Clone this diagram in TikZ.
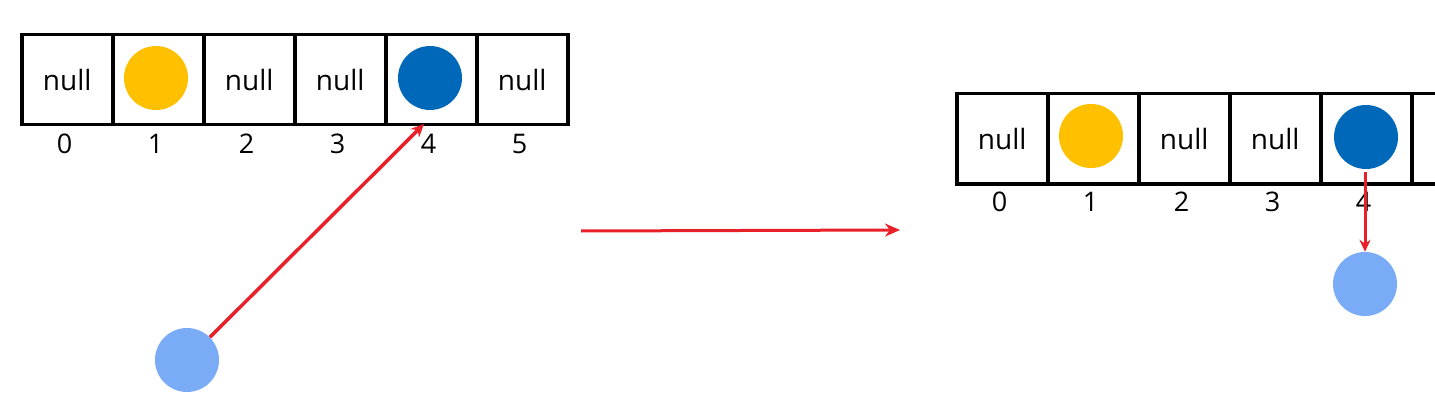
\documentclass[tikz,border=0pt]{standalone}
\usepackage{fontspec}
\setmainfont{Open Sans}
\usetikzlibrary{arrows.meta}
\definecolor{gold}{HTML}{FFC000}
\definecolor{dblue}{HTML}{0068B8}
\definecolor{lblue}{HTML}{7AABF6}
\definecolor{arrred}{HTML}{E8202A}
\tikzset{
  cell/.style={draw=black, line width=3.5pt, minimum width=91pt, minimum height=90pt, inner sep=0pt, font=\fontsize{28}{30}\selectfont, anchor=north west},
  idx/.style={font=\fontsize{27}{30}\selectfont, inner sep=0pt},
  ball/.style={circle, minimum size=64pt, inner sep=0pt},
  redarrow/.style={draw=arrred, line width=3.5pt, -{Stealth[length=13pt,width=12pt]}},
}
\begin{document}
\begin{tikzpicture}[x=1pt,y=-1pt]
\useasboundingbox (0,0) rectangle (1435,401);
\clip (0,0) rectangle (1435,401);
% left array
\foreach \i/\t in {0/null,1/{},2/null,3/null,4/{},5/null}{
  \node[cell] (L\i) at ({20+91*\i},33) {\t};
  \node[idx] (LI\i) at ({64.5+91*\i},144) {\i};
}
\node[ball, fill=gold] (Ly) at (156,78) {};
\node[ball, fill=dblue] (Lb) at (430,78) {};
\node[ball, fill=lblue] (Ln) at (187,360) {};
\coordinate (Lt) at (424,124);
\draw[redarrow] (Ln) -- (Lt);
% middle arrow
\coordinate (Ma) at (581,231);
\coordinate (Mb) at (900,230);
\draw[redarrow, line width=3pt, -{Stealth[length=15pt,width=13pt]}] (Ma) -- (Mb);
% right array
\foreach \i/\t in {0/null,1/{},2/null,3/null,4/{},5/null}{
  \node[cell] (R\i) at ({955+91*\i},92) {\t};
}
\foreach \i in {0,...,4}{
  \node[idx] (RI\i) at ({999.5+91*\i},202) {\i};
}
\node[ball, fill=gold] (Ry) at (1091,136) {};
\node[ball, fill=dblue] (Rb) at (1366,137) {};
\node[ball, fill=lblue] (Rn) at (1365,284) {};
\coordinate (Rs) at (1365,172);
\draw[redarrow, line width=3pt, -{Stealth[length=12pt,width=11pt]}] (Rs) -- (Rn.north);
\end{tikzpicture}
\end{document}
